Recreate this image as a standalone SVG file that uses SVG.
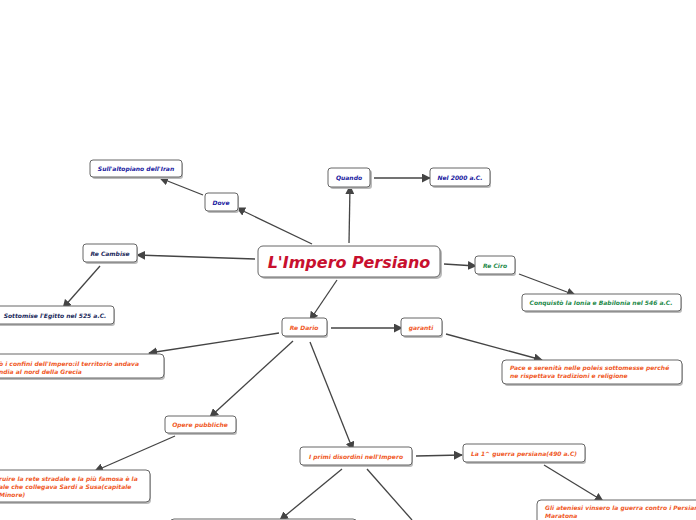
<svg xmlns="http://www.w3.org/2000/svg" width="696" height="520" viewBox="0 0 696 520">
<defs>
<marker id="ah" viewBox="0 0 10 10" refX="9" refY="5" markerWidth="9" markerHeight="9" markerUnits="userSpaceOnUse" orient="auto">
<path d="M0,0 L10,5 L0,10 z" fill="#444"/>
</marker>
</defs>
<style>
.box{fill:#fff;stroke:#666;stroke-width:1}
.sh{fill:#bbb}
.t{font-family:"DejaVu Sans",Verdana,sans-serif;font-weight:bold;font-style:italic;font-size:6px;text-anchor:middle}
.tl{font-family:"DejaVu Sans",Verdana,sans-serif;font-weight:bold;font-style:italic;font-size:6px}
.blue{fill:#1a1aa0}
.navy{fill:#1c2a5c}
.green{fill:#1e8a4a}
.org{fill:#f05a28}
.c{stroke:#444;stroke-width:1.3;fill:none}
.ca{stroke:#444;stroke-width:1.3;fill:none;marker-end:url(#ah)}
</style>
<rect width="696" height="520" fill="#fff"/>
<g id="connectors">
<line class="ca" x1="312" y1="244" x2="237" y2="208"/>
<line class="ca" x1="203" y1="195" x2="160" y2="178"/>
<line class="ca" x1="349" y1="243" x2="350" y2="186"/>
<line class="ca" x1="374" y1="178" x2="430" y2="178"/>
<line class="ca" x1="255" y1="259" x2="137" y2="255"/>
<line class="ca" x1="100" y1="266" x2="63" y2="308"/>
<line class="ca" x1="444" y1="264" x2="476" y2="266"/>
<line class="ca" x1="519" y1="274" x2="575" y2="295"/>
<line class="ca" x1="337" y1="280" x2="310" y2="320"/>
<line class="ca" x1="331" y1="328" x2="402" y2="328"/>
<line class="ca" x1="446" y1="334" x2="542" y2="360"/>
<line class="ca" x1="279" y1="333" x2="149" y2="353"/>
<line class="ca" x1="293" y1="341" x2="210" y2="417"/>
<line class="ca" x1="310" y1="342" x2="353" y2="450"/>
<line class="ca" x1="175" y1="436" x2="95" y2="471"/>
<line class="ca" x1="416" y1="456" x2="462" y2="455"/>
<line class="ca" x1="544" y1="465" x2="603" y2="501"/>
<line class="ca" x1="342" y1="469" x2="280" y2="520"/>
<line class="c" x1="367" y1="469" x2="412" y2="520"/>
</g>
<g id="main">
<rect class="sh" x="260" y="248" width="182" height="31" rx="5"/>
<rect class="box" x="258" y="246" width="182" height="31" rx="5"/>
<text x="349" y="268" style="font-family:'DejaVu Sans',Verdana,sans-serif;font-weight:bold;font-style:italic;font-size:16px;text-anchor:middle;fill:#c8102e">L'Impero Persiano</text>
</g>
<g id="quando">
<rect class="sh" x="330" y="170" width="42" height="19" rx="3"/>
<rect class="box" x="328" y="168" width="42" height="19" rx="3"/>
<text class="t blue" x="349" y="180">Quando</text>
</g>
<g id="nel2000">
<rect class="sh" x="432" y="170" width="59" height="18" rx="3"/>
<rect class="box" x="430" y="168" width="60" height="18" rx="3"/>
<text class="t blue" x="460" y="180">Nel 2000 a.C.</text>
</g>
<g id="dove">
<rect class="sh" x="207" y="195" width="32" height="18" rx="3"/>
<rect class="box" x="205" y="193" width="33" height="18" rx="3"/>
<text class="t blue" x="221" y="205">Dove</text>
</g>
<g id="altopiano">
<rect class="sh" x="92" y="162" width="91" height="17" rx="3"/>
<rect class="box" x="90" y="160" width="92" height="17" rx="3"/>
<text class="t blue" x="136" y="171">Sull'altopiano dell'Iran</text>
</g>
<g id="cambise">
<rect class="sh" x="85" y="246" width="53" height="18" rx="3"/>
<rect class="box" x="83" y="244" width="54" height="18" rx="3"/>
<text class="t navy" x="110" y="256">Re Cambise</text>
</g>
<g id="egitto">
<rect class="sh" x="-3" y="308" width="118" height="18" rx="3"/>
<rect class="box" x="-5" y="306" width="119" height="18" rx="3"/>
<text class="t navy" x="55" y="318">Sottomise l'Egitto nel 525 a.C.</text>
</g>
<g id="ciro">
<rect class="sh" x="477" y="258" width="39" height="18" rx="3"/>
<rect class="box" x="475" y="256" width="40" height="18" rx="3"/>
<text class="t green" x="495" y="268">Re Ciro</text>
</g>
<g id="conquisto">
<rect class="sh" x="524" y="296" width="158" height="17" rx="3"/>
<rect class="box" x="522" y="294" width="159" height="17" rx="3"/>
<text class="t green" x="601" y="305">Conquistò la Ionia e Babilonia nel 546 a.C.</text>
</g>
<g id="dario">
<rect class="sh" x="284" y="320" width="44" height="18" rx="3"/>
<rect class="box" x="282" y="318" width="45" height="18" rx="3"/>
<text class="t org" x="304" y="330">Re Dario</text>
</g>
<g id="garanti">
<rect class="sh" x="403" y="320" width="40" height="18" rx="3"/>
<rect class="box" x="401" y="318" width="41" height="18" rx="3"/>
<text class="t org" x="421" y="330">garanti</text>
</g>
<g id="pace">
<rect class="sh" x="504" y="362" width="179" height="24" rx="4"/>
<rect class="box" x="502" y="360" width="180" height="24" rx="4"/>
<text class="tl org" x="510" y="370">Pace e serenità nelle poleis sottomesse perché</text>
<text class="tl org" x="510" y="378">ne rispettava tradizioni e religione</text>
</g>
<g id="confini">
<rect class="sh" x="-8" y="356" width="173" height="24" rx="4"/>
<rect class="box" x="-10" y="354" width="174" height="24" rx="4"/>
<text class="tl org" x="-1" y="366">ò i confini dell'Impero:il territorio andava</text>
<text class="tl org" x="-1" y="374">ndia al nord della Grecia</text>
</g>
<g id="opere">
<rect class="sh" x="167" y="418" width="70" height="17" rx="3"/>
<rect class="box" x="165" y="416" width="71" height="17" rx="3"/>
<text class="t org" x="200" y="427">Opere pubbliche</text>
</g>
<g id="strade">
<rect class="sh" x="-8" y="472" width="159" height="32" rx="4"/>
<rect class="box" x="-10" y="470" width="160" height="32" rx="4"/>
<text class="tl org" x="-1" y="481">ruire la rete stradale e la più famosa è la</text>
<text class="tl org" x="-1" y="489">ale che collegava Sardi a Susa(capitale</text>
<text class="tl org" x="-1" y="497">Minore)</text>
</g>
<g id="disordini">
<rect class="sh" x="302" y="449" width="111" height="18" rx="3"/>
<rect class="box" x="300" y="447" width="112" height="18" rx="3"/>
<text class="t org" x="356" y="459">I primi disordini nell'Impero</text>
</g>
<g id="guerra1">
<rect class="sh" x="465" y="446" width="121" height="18" rx="3"/>
<rect class="box" x="463" y="444" width="122" height="18" rx="3"/>
<text class="t org" x="524" y="456">La 1^ guerra persiana(490 a.C)</text>
</g>
<g id="ateniesi">
<rect class="sh" x="539" y="502" width="170" height="30" rx="4"/>
<rect class="box" x="537" y="500" width="170" height="30" rx="4"/>
<text class="tl org" x="545" y="510">Gli ateniesi vinsero la guerra contro i Persiani a</text>
<text class="tl org" x="545" y="518">Maratona</text>
</g>
<g id="bottom">
<rect class="box" x="170" y="519" width="187" height="20" rx="4"/>
</g>
</svg>
